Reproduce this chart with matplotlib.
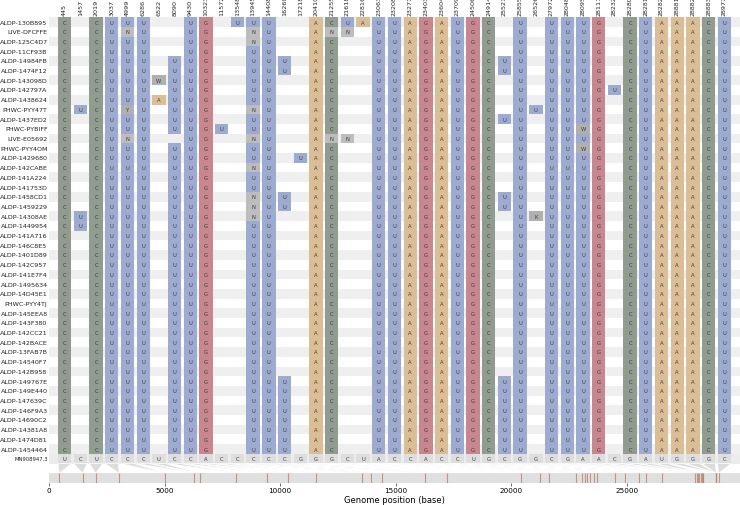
import matplotlib
matplotlib.use("Agg")
import matplotlib.pyplot as plt
from matplotlib.patches import Rectangle, Polygon

genome_length = 29903
reference_id = "MN908947.3"

positions = [445, 1457, 2019, 3037, 4999, 6286, 6522, 8090, 9430, 10323,
             11572, 13548, 13945, 14408, 16260, 17218, 20410, 21255, 21618, 22816,
             23063, 23208, 23271, 23403, 23604, 23709, 24506, 24914, 25521, 25855,
             26526, 27972, 28048, 28095, 28111, 28232, 28280, 28281, 28282, 28881,
             28882, 28883, 28977]

reference_bases = "UCUCCCUCCA CCCCCGGGCU ACCACCUGCG GCGAACGAUG GGC".replace(" ", "")

sample_names = [
    "ALDP-130B895", "LIVE-DFCFFE", "ALDP-125C4D7", "ALDP-11CF93B", "ALDP-14984FB",
    "ALDP-1474F12", "ALDP-143098D", "ALDP-142797A", "ALDP-1438624", "PHWC-PYY47T",
    "ALDP-1437ED2", "PHWC-PYBIFF", "LIVE-E05692", "PHWC-PYY4OM", "ALDP-1429680",
    "ALDP-142CABE", "ALDP-141A224", "ALDP-141753D", "ALDP-1458CD1", "ALDP-1459229",
    "ALDP-14308AE", "ALDP-1449954", "ALDP-141A716", "ALDP-146C8E5", "ALDP-1401D89",
    "ALDP-142C957", "ALDP-141E7F4", "ALDP-1495634", "ALDP-14D45E1", "PHWC-PYY4TJ",
    "ALDP-145EEA8", "ALDP-143F380", "ALDP-142CC21", "ALDP-142BACE", "ALDP-13FAB7B",
    "ALDP-14540F7", "ALDP-142B958", "ALDP-149767E", "ALDP-149E440", "ALDP-147639C",
    "ALDP-146F9A3", "ALDP-14690C2", "ALDP-14381A8", "ALDP-1474D81", "ALDP-1454464",
]

# one character per SNP column, '.' = same as reference
sample_calls = [
    "C.CUUU..UG .UUU..ACUA UUAGAUGC.U .UUUG.CUAA ACU",
    "C.CUNU..UG ..NU..ANN. UUAGAUGC.U .UUUG.CUAA ACU",
    "C.CUUU..UG ..NU..AC.. UUAGAUGC.U .UUUG.CUAA ACU",
    "C.CUUU..UG ..UU..AC.. UUAGAUGC.U .UUUG.CUAA ACU",
    "C.CUUU.UUG ..UUU.AC.. UUAGAUGCUU .UUUG.CUAA ACU",
    "C.CUUU.UUG ..UUU.AC.. UUAGAUGCUU .UUUG.CUAA ACU",
    "C.CUUUWUUG ..UU..AC.. UUAGAUGC.U .UUUG.CUAA ACU",
    "C.CUUU.UUG ..UU..AC.. UUAGAUGC.U .UUUGUCUAA ACU",
    "C.CUUUAUUG ..UU..AC.. UUAGAUGC.U .UUUG.CUAA ACU",
    "CUCUYU.UUG ..NU..AC.. UUAGAUGC.U UUUUG.CUAA ACU",
    "C.CUUU.UUG ..UU..AC.. UUAGAUGCUU .UUUG.CUAA ACU",
    "C.CUUU.UUG U.UU..AC.. UUAGAUGC.U .UUWG.CUAA ACU",
    "C.CUNU..UG ..NU..ANN. UUAGAUGC.U .UUUG.CUAA ACU",
    "C.CUUU.UUG ..UU..AC.. UUAGAUGC.U .UUWG.CUAA ACU",
    "C.CUUU.UUG ..UU.UAC.. UUAGAUGC.U .UUUG.CUAA ACU",
    "C.CUUU.UUG ..NU..AC.. UUAGAUGC.U .UUUG.CUAA ACU",
    "C.CUUU.UUG ..UU..AC.. UUAGAUGC.U .UUUG.CUAA ACU",
    "C.CUUU.UUG ..UU..AC.. UUAGAUGC.U .UUUG.CUAA ACU",
    "C.CUUU.UUG ..NUU.AC.. UUAGAUGCUU .UUUG.CUAA ACU",
    "C.CUUU.UUG ..NUU.AC.. UUAGAUGCUU .UUUG.CUAA ACU",
    "CUCUUU.UUG ..NU..AC.. UUAGAUGC.U KUUUG.CUAA ACU",
    "CUCUUU.UUG ..UU..AC.. UUAGAUGC.U .UUUG.CUAA ACU",
    "C.CUUU.UUG ..UU..AC.. UUAGAUGC.U .UUUG.CUAA ACU",
    "C.CUUU.UUG ..UU..AC.. UUAGAUGC.U .UUUG.CUAA ACU",
    "C.CUUU.UUG ..UU..AC.. UUAGAUGC.U .UUUG.CUAA ACU",
    "C.CUUU.UUG ..UU..AC.. UUAGAUGC.U .UUUG.CUAA ACU",
    "C.CUUU.UUG ..UU..AC.. UUAGAUGC.U .UUUG.CUAA ACU",
    "C.CUUU.UUG ..UU..AC.. UUAGAUGC.U .UUUG.CUAA ACU",
    "C.CUUU.UUG ..UU..AC.. UUAGAUGC.U .UUUG.CUAA ACU",
    "C.CUUU.UUG ..UU..AC.. UUAGAUGC.U .UUUG.CUAA ACU",
    "C.CUUU.UUG ..UU..AC.. UUAGAUGC.U .UUUG.CUAA ACU",
    "C.CUUU.UUG ..UU..AC.. UUAGAUGC.U .UUUG.CUAA ACU",
    "C.CUUU.UUG ..UU..AC.. UUAGAUGC.U .UUUG.CUAA ACU",
    "C.CUUU.UUG ..UU..AC.. UUAGAUGC.U .UUUG.CUAA ACU",
    "C.CUUU.UUG ..UU..AC.. UUAGAUGC.U .UUUG.CUAA ACU",
    "C.CUUU.UUG ..UU..AC.. UUAGAUGC.U .UUUG.CUAA ACU",
    "C.CUUU.UUG ..UU..AC.. UUAGAUGC.U .UUUG.CUAA ACU",
    "C.CUUU.UUG ..UUU.AC.. UUAGAUGCUU .UUUG.CUAA ACU",
    "C.CUUU.UUG ..UUU.AC.. UUAGAUGCUU .UUUG.CUAA ACU",
    "C.CUUU.UUG ..UUU.AC.. UUAGAUGCUU .UUUG.CUAA ACU",
    "C.CUUU.UUG ..UUU.AC.. UUAGAUGCUU .UUUG.CUAA ACU",
    "C.CUUU.UUG ..UUU.AC.. UUAGAUGCUU .UUUG.CUAA ACU",
    "C.CUUU.UUG ..UUU.AC.. UUAGAUGCUU .UUUG.CUAA ACU",
    "C.CUUU.UUG ..UUU.AC.. UUAGAUGCUU .UUUG.CUAA ACU",
    "C.CUUU.UUG ..UUU.AC.. UUAGAUGCUU .UUUG.CUAA ACU",
]
sample_calls = [s.replace(" ", "") for s in sample_calls]

tick_values = [0, 5000, 10000, 15000, 20000, 25000]

base_colors = {
    "A": "#dcbe96", "C": "#8f9c8f", "G": "#c8868f", "U": "#9dabd1",
    "N": "#bdbdbd", "W": "#b0b0b0", "Y": "#b0b0b0", "K": "#b0b0b0",
}
text_color = "#3c3c3c"

W, H = 740, 506
fig = plt.figure(figsize=(W / 100, H / 100), dpi=100)
top_px, bot_px = 17.7, 484.0
ax = fig.add_axes([49 / W, (H - bot_px) / H, (W - 49) / W, (bot_px - top_px) / H])

n = len(sample_names)
spacing = genome_length / (len(positions) + 1)
xs = [(i + 1) * spacing for i in range(len(positions))]
cw = 0.85 * spacing

# stripes
for k in range(n):
    if k % 2 == 0:
        ax.add_patch(Rectangle((0, k - 0.5), genome_length, 1, fc="#efefef", ec="none", zorder=0))

# cells
for k, calls in enumerate(sample_calls):
    for i, ch in enumerate(calls):
        if ch == ".":
            continue
        ax.add_patch(Rectangle((xs[i] - cw / 2, k - 0.5), cw, 1,
                               fc=base_colors[ch], ec="none", zorder=1))
        ax.text(xs[i], k, ch, ha="center", va="center", fontsize=3.8,
                color=text_color, zorder=2)

# row labels
for k, name in enumerate(sample_names):
    ax.text(-60, k, name, ha="right", va="center", fontsize=4.6, color="#222222",
            clip_on=False)

# column labels
for i, pos in enumerate(positions):
    ax.text(xs[i], -0.7, str(pos), rotation=90, ha="center", va="bottom",
            fontsize=4.6, color="#222222", clip_on=False)

# reference row
ax.add_patch(Rectangle((0, n - 0.5), genome_length, 1, fc="#ececec", ec="none", zorder=0))
for i, ch in enumerate(reference_bases):
    ax.add_patch(Rectangle((xs[i] - cw / 2, n - 0.5), cw, 1, fc="#dedede", ec="none", zorder=1))
    ax.text(xs[i], n, ch, ha="center", va="center", fontsize=3.8, color=text_color, zorder=2)
ax.text(-60, n, reference_id, ha="right", va="center", fontsize=3.8, color="#222222",
        clip_on=False)

# connectors
for i, pos in enumerate(positions):
    ax.add_patch(Polygon([(xs[i] - cw / 2, n + 0.5), (xs[i] + cw / 2, n + 0.5), (pos, n + 1.5)],
                         closed=True, fc="#dcdcdc", ec="white", lw=0.5, zorder=1))

# genome track
ax.add_patch(Rectangle((0, n + 1.5), genome_length, 1, fc="#e0e0e0", ec="none", zorder=1))
ax.vlines(positions, n + 1.5, n + 2.5, color="#b9836f", lw=0.8, alpha=0.8, zorder=2)

ax.set_xlim(0, genome_length)
ax.set_ylim(n + 2.5, -0.55)
for s in ax.spines.values():
    s.set_visible(False)
ax.set_yticks([])
ax.set_xticks(tick_values)
ax.set_xticklabels([str(t) for t in tick_values])
ax.tick_params(axis="x", labelsize=5.2, length=2, width=0.5, pad=1, color="#333333")
ax.set_xlabel("Genome position (base)", fontsize=6, labelpad=1)

fig.savefig("out.png", dpi=100)
